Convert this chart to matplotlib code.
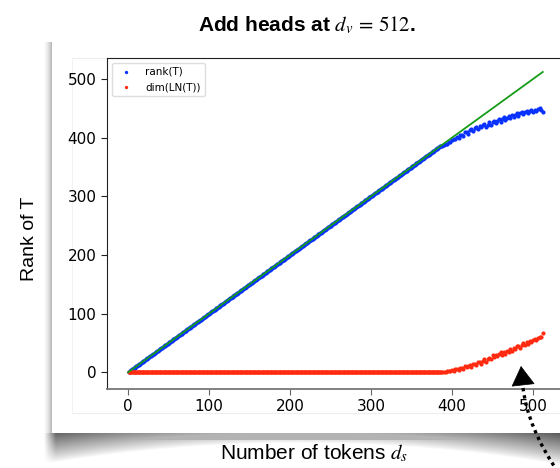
import numpy as np
import matplotlib
matplotlib.use("Agg")
import matplotlib.pyplot as plt
from matplotlib.patches import Rectangle, PathPatch
from matplotlib.path import Path

plt.rcParams['mathtext.fontset'] = 'stix'

# rank(T) equals the number of tokens while T has full rank
full_tokens = np.arange(1, 386)
full_rank = full_tokens.copy()
full_dim_ln = np.zeros(len(full_tokens))

# tail where the ranks saturate
tail_tokens = np.arange(386, 513, 2)
tail_rank = [385, 386, 387, 389, 390, 392, 393, 396, 397, 398,
             401, 399, 404, 405, 403, 409, 410, 407, 413, 414,
             411, 417, 418, 415, 420, 418, 421, 424, 418, 422,
             426, 422, 427, 429, 425, 429, 432, 427, 432, 435,
             430, 433, 437, 434, 438, 436, 439, 442, 437, 442,
             444, 440, 444, 446, 442, 446, 448, 443, 448, 446,
             449, 451, 447, 444]
tail_dim_ln = [0, 0, 1, 1, 2, 3, 2, 4, 3, 5,
               6, 4, 7, 8, 6, 10, 9, 11, 12, 9,
               14, 15, 12, 17, 18, 15, 20, 22, 18, 23,
               25, 23, 29, 26, 30, 27, 32, 34, 30, 35,
               32, 37, 35, 39, 37, 42, 39, 44, 45, 42,
               47, 50, 47, 51, 49, 54, 52, 55, 57, 55,
               59, 60, 61, 67]

tokens = np.concatenate([full_tokens, tail_tokens])
rank_T = np.concatenate([full_rank, tail_rank])
dim_LN = np.concatenate([full_dim_ln, tail_dim_ln])

ref_x = [0, 512]
ref_y = [0, 512]

W, H = 560, 468
fig = plt.figure(figsize=(W / 100, H / 100), dpi=100)

# background: slide panel with curled shadow
bg = fig.add_axes([0, 0, 1, 1], zorder=-10)
bg.set_xlim(0, W)
bg.set_ylim(H, 0)
bg.axis('off')
yy, xx = np.mgrid[0:H, 0:W] + 0.5
u = ((xx - 300) / 260) ** 2
depth = 10 + 22 * u
t = (yy - 433) / depth
bottom = np.where((t >= 0) & (t <= 1), (1 - np.clip(t, 0, 1)) ** 0.9, 0) * (0.3 + 0.35 * u)
bottom *= np.clip((xx - 44) / 12, 0, 1)
strip = np.where((yy > 42) & (yy < 440), np.clip((xx - 42) / 10, 0, 1) ** 2 * 0.3, 0)
alpha = np.maximum(bottom, strip)
rgba = np.zeros((H, W, 4))
rgba[..., 3] = alpha
bg.imshow(rgba, extent=(0, W, H, 0), interpolation='bilinear', zorder=0)
bg.add_patch(Rectangle((52, 37), 520, 396, facecolor='white', edgecolor='none', zorder=1))
bg.plot([72, 560], [58, 58], color='#eeeeee', lw=0.8, zorder=2)
bg.plot([72, 560], [413, 413], color='#eeeeee', lw=0.8, zorder=2)
bg.plot([72, 72], [58, 413], color='#f2f2f2', lw=0.8, zorder=2)

# main chart
ax = fig.add_axes([107 / W, (H - 388.5) / H, 456 / W, 330.5 / H])
ax.patch.set_alpha(0)
ax.scatter(tokens, rank_T, s=9, color='#0a32ff', linewidths=0, label='rank(T)', zorder=2)
ax.scatter(tokens, dim_LN, s=9, color='#ff2a10', linewidths=0, label='dim(LN(T))', zorder=2)
ax.plot(ref_x, ref_y, color='#169c16', lw=1.3, zorder=3)
ax.set_xlim(-26, 537)
ax.set_ylim(-27.6, 535.8)
ax.set_xticks([0, 100, 200, 300, 400, 500])
ax.set_yticks([0, 100, 200, 300, 400, 500])
ax.tick_params(labelsize=11, length=4, width=0.8, colors='#222222', labelcolor='black')
ax.tick_params(axis='x', colors='#666666', labelcolor='black')
ax.spines['bottom'].set_color('#777777')
ax.spines['bottom'].set_linewidth(1.3)
ax.spines['left'].set_color('#222222')
ax.spines['top'].set_color('#222222')
ax.legend(loc='upper left', fontsize=7.5, scatterpoints=1, markerscale=0.8,
          framealpha=1, edgecolor='#dddddd', borderaxespad=0.45)

# slide texts
fig.text(307 / W, 1 - 25 / H, r'Add heads at $d_v\,=\,512$.', ha='center', va='center',
         fontsize=15, fontweight='bold', family='Liberation Sans')
fig.text(314 / W, 1 - 453 / H, r'Number of tokens $d_s$', ha='center', va='center',
         fontsize=15, family='Liberation Sans')
fig.text(29 / W, 1 - 239 / H, 'Rank of T', ha='center', va='center', rotation=90,
         fontsize=14, family='Liberation Sans')

# dotted pointer arrow on top
top = fig.add_axes([0, 0, 1, 1], zorder=10)
top.set_xlim(0, W)
top.set_ylim(H, 0)
top.axis('off')
curve = Path([(523, 388), (528, 428), (558, 472)], [Path.MOVETO, Path.CURVE3, Path.CURVE3])
top.add_patch(PathPatch(curve, facecolor='none', edgecolor='black', lw=2.4,
                        linestyle=(0, (1, 1.2)), capstyle='butt'))
top.annotate('', xy=(521, 366), xytext=(523, 384),
             arrowprops=dict(arrowstyle='-|>,head_length=0.6,head_width=0.36',
                             color='black', mutation_scale=22, lw=0.5,
                             shrinkA=0, shrinkB=0))

fig.savefig('out.png', dpi=100)
